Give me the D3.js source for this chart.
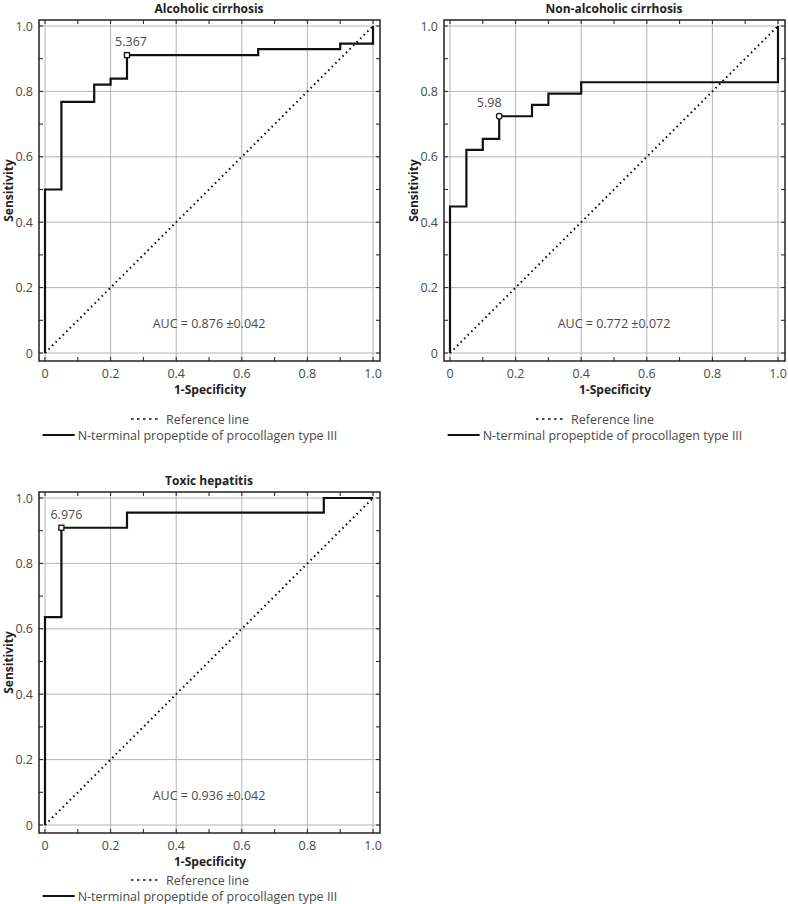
<!DOCTYPE html>
<html>
<head>
<meta charset="utf-8">
<title>ROC curves</title>
<script src="https://cdn.jsdelivr.net/npm/d3@7"></script>
<style>
body { margin:0; background:#fff; }
text { font-family:"Open Sans","Noto Sans",sans-serif; }
</style>
</head>
<body>
<svg id="chart" width="788" height="904"></svg>
<script>
// data
var titles = ["Alcoholic cirrhosis", "Non-alcoholic cirrhosis", "Toxic hepatitis"];
var fpr1 = [0, 0, 0.05, 0.15, 0.2, 0.25, 0.65, 0.9, 1];
var tpr1 = [0, 0.5, 0.768, 0.821, 0.839, 0.911, 0.929, 0.946, 1];
var fpr2 = [0, 0, 0.05, 0.1, 0.15, 0.25, 0.3, 0.4, 1];
var tpr2 = [0, 0.448, 0.621, 0.655, 0.724, 0.759, 0.793, 0.828, 1];
var fpr3 = [0, 0, 0.05, 0.25, 0.85, 1];
var tpr3 = [0, 0.636, 0.909, 0.955, 1, 1];
var cutX = [0.25, 0.15, 0.05];
var cutY = [0.911, 0.724, 0.909];
var cutLabels = ["5.367", "5.98", "6.976"];
var aucLabels = ["AUC = 0.876 \u00b10.042", "AUC = 0.772 \u00b10.072", "AUC = 0.936 \u00b10.042"];
var ticks = [0, 0.2, 0.4, 0.6, 0.8, 1.0];
var tickText = ["0", "0.2", "0.4", "0.6", "0.8", "1.0"];
var legendText = ["Reference line", "N-terminal propeptide of procollagen type III"];

// layout / style per panel
var panels = [
  {ox:0,   oy:0,   fpr:fpr1, tpr:tpr1, marker:"square", ldx:4,   legY:419},
  {ox:405, oy:0,   fpr:fpr2, tpr:tpr2, marker:"circle", ldx:-10, legY:419},
  {ox:0,   oy:472, fpr:fpr3, tpr:tpr3, marker:"square", ldx:5,   legY:408}
];

var fs = 12.5;
var svg = d3.select("#chart");

panels.forEach(function(p, i) {
  var g = svg.append("g").attr("transform", "translate(" + p.ox + "," + p.oy + ")");
  var x = d3.scaleLinear().domain([0, 1]).range([45, 373]);
  var y = d3.scaleLinear().domain([0, 1]).range([353, 26]);
  var fl = 39, fr = 380, ft = 20, fb = 361;

  // grid
  g.selectAll(".gx").data(ticks).enter().append("line")
    .attr("x1", d => x(d)).attr("x2", d => x(d)).attr("y1", ft).attr("y2", fb)
    .attr("stroke", "#b4b4b4").attr("stroke-width", 1);
  g.selectAll(".gy").data(ticks).enter().append("line")
    .attr("y1", d => y(d)).attr("y2", d => y(d)).attr("x1", fl).attr("x2", fr)
    .attr("stroke", "#b4b4b4").attr("stroke-width", 1);

  // inner ticks every 0.1 on all four sides
  var t10 = d3.range(0, 1.01, 0.1);
  var tk = g.append("g").attr("stroke", "#222").attr("stroke-width", 1);
  t10.forEach(function(v) {
    tk.append("line").attr("x1", x(v)).attr("x2", x(v)).attr("y1", ft).attr("y2", ft + 4);
    tk.append("line").attr("x1", x(v)).attr("x2", x(v)).attr("y1", fb).attr("y2", fb - 4);
    tk.append("line").attr("y1", y(v)).attr("y2", y(v)).attr("x1", fl).attr("x2", fl + 4);
    tk.append("line").attr("y1", y(v)).attr("y2", y(v)).attr("x1", fr).attr("x2", fr - 4);
  });

  // frame
  g.append("rect").attr("x", fl).attr("y", ft).attr("width", fr - fl).attr("height", fb - ft)
    .attr("fill", "none").attr("stroke", "#222").attr("stroke-width", 1.5);

  // tick labels
  g.selectAll(".xl").data(ticks).enter().append("text")
    .attr("x", d => x(d)).attr("y", 378).attr("text-anchor", "middle")
    .attr("font-size", fs).attr("fill", "#4a4a4a").text((d, j) => tickText[j]);
  g.selectAll(".yl").data(ticks).enter().append("text")
    .attr("x", 33).attr("y", d => y(d) + 4.5).attr("text-anchor", "end")
    .attr("font-size", fs).attr("fill", "#4a4a4a").text((d, j) => tickText[j]);

  // titles
  g.append("text").attr("x", 209).attr("y", 13).attr("text-anchor", "middle")
    .attr("font-size", 12).attr("font-weight", "bold").attr("fill", "#222").text(titles[i]);
  g.append("text").attr("x", 210).attr("y", 394).attr("text-anchor", "middle")
    .attr("font-size", 12).attr("font-weight", "bold").attr("fill", "#222").text("1-Specificity");
  g.append("text").attr("transform", "translate(13," + ((ft + fb) / 2) + ") rotate(-90)")
    .attr("text-anchor", "middle").attr("font-size", 12).attr("font-weight", "bold")
    .attr("fill", "#222").text("Sensitivity");

  // reference diagonal
  g.append("line").attr("x1", x(0)).attr("y1", y(0)).attr("x2", x(1)).attr("y2", y(1))
    .attr("stroke", "#111").attr("stroke-width", 2).attr("stroke-dasharray", "1.6,3.4");

  // ROC curve
  var pts = p.fpr.map((v, j) => [v, p.tpr[j]]);
  var line = d3.line().x(d => x(d[0])).y(d => y(d[1])).curve(d3.curveStepAfter);
  g.append("path").attr("d", line(pts)).attr("fill", "none")
    .attr("stroke", "#111").attr("stroke-width", 2.2);

  // cutoff marker
  if (p.marker == "square") {
    g.append("rect").attr("x", x(cutX[i]) - 2.5).attr("y", y(cutY[i]) - 2.5)
      .attr("width", 5).attr("height", 5).attr("fill", "#fff")
      .attr("stroke", "#111").attr("stroke-width", 1.3);
  } else {
    g.append("circle").attr("cx", x(cutX[i])).attr("cy", y(cutY[i])).attr("r", 2.8)
      .attr("fill", "#fff").attr("stroke", "#111").attr("stroke-width", 1.3);
  }
  g.append("text").attr("x", x(cutX[i]) + p.ldx).attr("y", y(cutY[i]) - 9)
    .attr("text-anchor", "middle").attr("font-size", fs).attr("fill", "#4a4a4a").text(cutLabels[i]);

  // AUC
  g.append("text").attr("x", x(0.5)).attr("y", y(0.09) + 4.5).attr("text-anchor", "middle")
    .attr("font-size", fs).attr("fill", "#4a4a4a").text(aucLabels[i]);

  // legend, each row centred
  var cx = 190;
  legendText.forEach(function(t, j) {
    var ly = p.legY + j * 16;
    var lw = j == 0 ? 30 : 32;
    var gap = j == 0 ? 5 : 3;
    var txt = g.append("text").attr("y", ly + 4.5).attr("font-size", fs).attr("fill", "#4a4a4a").text(t);
    var tw = txt.node().getComputedTextLength();
    var x0 = cx - (lw + gap + tw) / 2;
    txt.attr("x", x0 + lw + gap);
    g.append("line").attr("x1", x0).attr("x2", x0 + lw).attr("y1", ly).attr("y2", ly)
      .attr("stroke", "#111").attr("stroke-width", j == 0 ? 1.6 : 2.2)
      .attr("stroke-dasharray", j == 0 ? "2.5,3.5" : null);
  });
});
</script>
</body>
</html>
